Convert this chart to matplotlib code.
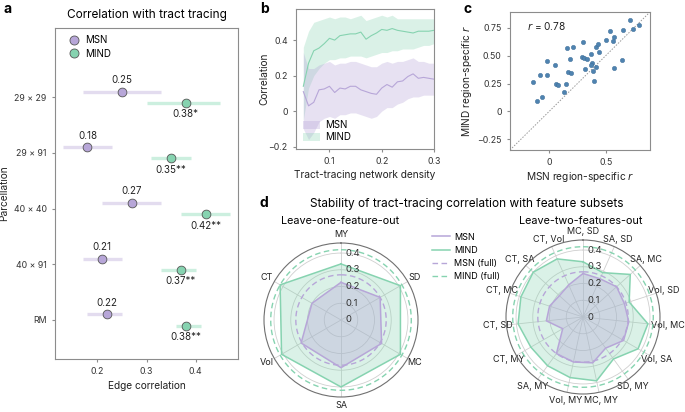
import numpy as np
import matplotlib.pyplot as plt
from matplotlib.patches import Patch
from matplotlib.lines import Line2D

plt.rcParams['font.family'] = ['Inter', 'DejaVu Sans']
plt.rcParams['mathtext.fontset'] = 'custom'
plt.rcParams['mathtext.it'] = 'DejaVu Sans:italic'
plt.rcParams['mathtext.rm'] = 'Inter'
plt.rcParams['axes.edgecolor'] = '#8c8c8c'
plt.rcParams['axes.linewidth'] = 0.8
plt.rcParams['xtick.color'] = '#8c8c8c'
plt.rcParams['ytick.color'] = '#8c8c8c'
plt.rcParams['xtick.labelcolor'] = '#333333'
plt.rcParams['ytick.labelcolor'] = '#333333'
plt.rcParams['xtick.labelsize'] = 6.3
plt.rcParams['ytick.labelsize'] = 6.3
plt.rcParams['xtick.major.size'] = 2.5
plt.rcParams['ytick.major.size'] = 2.5
plt.rcParams['axes.labelsize'] = 7.3
plt.rcParams['axes.labelcolor'] = '#222222'

MSN_C = '#b7a6d8'
MIND_C = '#86d3b0'
MSN_LIGHT = '#e3dcef'
MIND_LIGHT = '#ccefdf'
DOT_C = '#4f83b0'

W, H = 685, 412


def fx(px):
    return px / W


def fy(py):
    return 1 - py / H


# ---- panel a: correlation with tract tracing
parcellations = ['29 × 29', '29 × 91', '40 × 40', '40 × 91', 'RM']
msn_corr = [0.25, 0.18, 0.27, 0.21, 0.22]
msn_lo = [0.17, 0.13, 0.21, 0.17, 0.18]
msn_hi = [0.33, 0.23, 0.33, 0.25, 0.25]
mind_corr = [0.38, 0.35, 0.42, 0.37, 0.38]
mind_lo = [0.30, 0.31, 0.37, 0.33, 0.36]
mind_hi = [0.45, 0.39, 0.47, 0.40, 0.41]
mind_labels = ['0.38*', '0.35**', '0.42**', '0.37**', '0.38**']

# ---- panel b: correlation vs tract-tracing density
density = [0.05, 0.06, 0.07, 0.08, 0.09, 0.10, 0.11, 0.12, 0.13, 0.14, 0.15, 0.16, 0.17,
           0.18, 0.19, 0.20, 0.21, 0.22, 0.23, 0.24, 0.25, 0.26, 0.27, 0.28, 0.29, 0.30]
mind_mean = [0.14, 0.27, 0.34, 0.355, 0.38, 0.41, 0.40, 0.425, 0.43, 0.435, 0.435, 0.445, 0.405,
             0.425, 0.44, 0.46, 0.455, 0.465, 0.455, 0.45, 0.445, 0.44, 0.45, 0.45, 0.45, 0.455]
mind_upper = [0.36, 0.45, 0.50, 0.51, 0.52, 0.53, 0.52, 0.53, 0.53, 0.52, 0.53, 0.54, 0.51,
              0.52, 0.53, 0.54, 0.53, 0.54, 0.52, 0.52, 0.52, 0.52, 0.52, 0.52, 0.52, 0.52]
mind_lower = [-0.05, 0.13, 0.20, 0.24, 0.27, 0.29, 0.29, 0.30, 0.30, 0.31, 0.31, 0.31, 0.30,
              0.31, 0.32, 0.33, 0.33, 0.34, 0.34, 0.35, 0.35, 0.35, 0.36, 0.37, 0.37, 0.38]
msn_mean = [0.11, 0.03, 0.05, 0.12, 0.125, 0.14, 0.105, 0.13, 0.125, 0.14, 0.14, 0.12, 0.11,
            0.10, 0.095, 0.13, 0.15, 0.135, 0.165, 0.17, 0.195, 0.21, 0.185, 0.19, 0.185, 0.18]
msn_upper = [0.33, 0.24, 0.24, 0.26, 0.27, 0.28, 0.26, 0.27, 0.27, 0.28, 0.28, 0.27, 0.26,
             0.25, 0.25, 0.27, 0.28, 0.27, 0.28, 0.28, 0.29, 0.30, 0.28, 0.28, 0.27, 0.27]
msn_lower = [-0.10, -0.16, -0.12, -0.06, -0.04, -0.03, -0.04, -0.02, -0.02, -0.01, -0.01, -0.02, -0.03,
             -0.04, -0.03, 0.00, 0.02, 0.02, 0.04, 0.05, 0.07, 0.08, 0.08, 0.09, 0.09, 0.09]

# ---- panel c: region-specific correlations
msn_region = [0.30, 0.16, 0.21, 0.41, 0.43, 0.44, 0.37, 0.29, 0.31, 0.33, 0.18, -0.02, 0.05, 0.38,
              0.37, 0.41, 0.32, 0.39, 0.17, 0.19, -0.08, -0.02, 0.40, -0.14, 0.06, 0.08, 0.15,
              0.13, -0.06, -0.11, 0.71, 0.79, 0.65, 0.74, 0.54, 0.57, 0.56, 0.50, 0.64, 0.57]
mind_region = [0.62, 0.57, 0.58, 0.58, 0.60, 0.53, 0.51, 0.49, 0.48, 0.47, 0.47, 0.45, 0.42, 0.43,
               0.42, 0.40, 0.38, 0.36, 0.35, 0.34, 0.33, 0.33, 0.27, 0.26, 0.245, 0.24, 0.245,
               0.17, 0.13, 0.09, 0.82, 0.77, 0.73, 0.74, 0.72, 0.67, 0.63, 0.64, 0.46, 0.39]

# ---- panel d: feature subsets
one_out = ['MY', 'SD', 'MC', 'SA', 'Vol', 'CT']
msn_one = [0.225, 0.27, 0.28, 0.285, 0.275, 0.20]
mind_one = [0.335, 0.41, 0.41, 0.40, 0.41, 0.42]
two_out = ['MC, SD', 'SA, SD', 'SA, MC', 'Vol, SD', 'Vol, MC', 'Vol, SA', 'SD, MY', 'MC, MY',
           'Vol, MY', 'SA, MY', 'CT, MY', 'CT, SD', 'CT, MC', 'CT, SA', 'CT, Vol']
msn_two = [0.26, 0.25, 0.27, 0.26, 0.275, 0.28, 0.23, 0.28, 0.275, 0.27, 0.14, 0.22, 0.21, 0.19, 0.21]
mind_two = [0.33, 0.29, 0.38, 0.29, 0.39, 0.38, 0.31, 0.39, 0.37, 0.36, 0.36, 0.39, 0.39, 0.40, 0.38]
msn_full = 0.27
mind_full = 0.42

fig = plt.figure(figsize=(6.85, 4.12), dpi=100)

# ================= a
ax_a = fig.add_axes([fx(55), fy(359), fx(183), 331 / H])
y = np.arange(len(parcellations))
ax_a.hlines(y - 0.1, msn_lo, msn_hi, color=MSN_LIGHT, lw=2.4, zorder=1)
ax_a.hlines(y + 0.1, mind_lo, mind_hi, color=MIND_LIGHT, lw=2.4, zorder=1)
ax_a.plot(msn_corr, y - 0.1, 'o', ms=6.3, mfc=MSN_C, mec='#555555', mew=0.6, zorder=3)
ax_a.plot(mind_corr, y + 0.1, 'o', ms=6.3, mfc=MIND_C, mec='#555555', mew=0.6, zorder=3)
for i in range(len(parcellations)):
    ax_a.annotate(f'{msn_corr[i]:.2f}', (msn_corr[i], y[i] - 0.1), xytext=(0, 8.3),
                  textcoords='offset points', ha='center', va='center', fontsize=7, color='#222222')
    ax_a.annotate(mind_labels[i], (mind_corr[i], y[i] + 0.1), xytext=(0, -8.3),
                  textcoords='offset points', ha='center', va='center', fontsize=7, color='#222222')
ax_a.set_yticks(y)
ax_a.set_yticklabels(parcellations)
ax_a.set_ylim(4.7, -1.24)
ax_a.set_xlim(0.114, 0.486)
ax_a.set_xticks([0.2, 0.3, 0.4])
ax_a.set_xticklabels(['0.2', '0.3', '0.4'])
ax_a.set_xlabel('Edge correlation')
ax_a.set_ylabel('Parcellation')
ax_a.xaxis.set_label_coords(0.5, -0.066)
ax_a.yaxis.set_label_coords(-0.25, 0.5)
leg_a = ax_a.legend(handles=[
    Line2D([], [], marker='o', ls='', ms=6.5, mfc=MSN_C, mec='#555555', mew=0.6, label='MSN'),
    Line2D([], [], marker='o', ls='', ms=6.5, mfc=MIND_C, mec='#555555', mew=0.6, label='MIND')],
    loc='upper left', bbox_to_anchor=(0.02, 0.995), frameon=False, fontsize=7,
    handletextpad=0.1, labelspacing=0.35, borderaxespad=0.2)
fig.text(fx(147), fy(15), 'Correlation with tract tracing', ha='center', va='center', fontsize=8.5)
fig.text(fx(3), fy(9), 'a', ha='left', va='center', fontsize=10, fontweight='bold')

# ================= b
ax_b = fig.add_axes([fx(296), fy(149), fx(138), 140 / H])
ax_b.fill_between(density, mind_lower, mind_upper, color=MIND_C, alpha=0.3, lw=0)
ax_b.fill_between(density, msn_lower, msn_upper, color=MSN_C, alpha=0.33, lw=0)
ax_b.plot(density, mind_mean, color=MIND_C, lw=0.8)
ax_b.plot(density, msn_mean, color=MSN_C, lw=0.8)
ax_b.set_xlim(0.036, 0.30)
ax_b.set_ylim(-0.213, 0.575)
ax_b.set_xticks([0.1, 0.2, 0.3])
ax_b.set_xticklabels(['0.1', '0.2', '0.3'])
ax_b.set_yticks([-0.2, 0, 0.2, 0.4])
ax_b.set_yticklabels(['−0.2', '0', '0.2', '0.4'])
ax_b.set_xlabel('Tract-tracing network density')
ax_b.set_ylabel('Correlation')
ax_b.xaxis.set_label_coords(0.5, -0.15)
ax_b.yaxis.set_label_coords(-0.19, 0.5)
ax_b.legend(handles=[Patch(color=MSN_C, alpha=0.33, lw=0, label='MSN'),
                     Patch(color=MIND_C, alpha=0.3, lw=0, label='MIND')],
            loc='lower left', frameon=False, fontsize=7, handlelength=1.8, handleheight=1.0,
            handletextpad=0.5, labelspacing=0.2, borderaxespad=0.3)
fig.text(fx(260), fy(9), 'b', ha='left', va='center', fontsize=10, fontweight='bold')

# ================= c
ax_c = fig.add_axes([fx(510), fy(150), fx(140), 138 / H])
lims = (-0.345, 0.89)
ax_c.plot(lims, lims, ls=(0, (1.5, 1.5)), color='#999999', lw=0.7, zorder=1)
ax_c.scatter(msn_region, mind_region, s=10, color=DOT_C, edgecolor='#3a6a94', linewidth=0.3, zorder=3)
ax_c.set_xlim(lims)
ax_c.set_ylim(lims)
ax_c.set_xticks([0, 0.5])
ax_c.set_xticklabels(['0', '0.5'])
ax_c.set_yticks([-0.25, 0, 0.25, 0.5, 0.75])
ax_c.set_yticklabels(['−0.25', '0', '0.25', '0.50', '0.75'])
ax_c.set_xlabel('MSN region-specific $r$')
ax_c.set_ylabel('MIND region-specific $r$')
ax_c.xaxis.set_label_coords(0.5, -0.145)
ax_c.yaxis.set_label_coords(-0.26, 0.5)
ax_c.text(0.12, 0.9, '$r$ = 0.78', transform=ax_c.transAxes, fontsize=7.3, ha='left', va='center',
          color='#222222')
fig.text(fx(463), fy(9), 'c', ha='left', va='center', fontsize=10, fontweight='bold')

# ================= d
fig.text(fx(260), fy(203), 'd', ha='left', va='center', fontsize=10, fontweight='bold')
fig.text(fx(467), fy(204), 'Stability of tract-tracing correlation with feature subsets',
         ha='center', va='center', fontsize=8.5)
fig.text(fx(340), fy(221), 'Leave-one-feature-out', ha='center', va='center', fontsize=7.8)
fig.text(fx(581), fy(221), 'Leave-two-features-out', ha='center', va='center', fontsize=7.8)


def radar(ax, labels, msn_vals, mind_vals):
    n = len(labels)
    ang = np.linspace(0, 2 * np.pi, n, endpoint=False)
    closed = np.append(ang, ang[0])
    ax.set_theta_zero_location('N')
    ax.set_theta_direction(-1)
    mind = np.append(mind_vals, mind_vals[0])
    msn = np.append(msn_vals, msn_vals[0])
    ax.fill(closed, mind, color=MIND_C, alpha=0.3, lw=0, zorder=2)
    ax.plot(closed, mind, color=MIND_C, lw=1.1, zorder=4)
    ax.fill(closed, msn, color=MSN_C, alpha=0.35, lw=0, zorder=3)
    ax.plot(closed, msn, color=MSN_C, lw=1.1, zorder=5)
    circ = np.linspace(0, 2 * np.pi, 300)
    ax.plot(circ, np.full_like(circ, msn_full), ls=(0, (4, 2.5)), color=MSN_C, lw=1.0, zorder=5)
    ax.plot(circ, np.full_like(circ, mind_full), ls=(0, (4, 2.5)), color=MIND_C, lw=1.0, zorder=5)
    ax.set_ylim(0, 0.46)
    ax.set_yticks([0.1, 0.2, 0.3, 0.4])
    ax.set_yticklabels([])
    ax.set_xticks(ang)
    ax.set_xticklabels(labels, fontsize=6.5, color='#222222')
    ax.tick_params(axis='x', pad=-3.5)
    ax.grid(color='#cfcfcf', lw=0.6)
    ax.spines['polar'].set_color('#707070')
    ax.spines['polar'].set_linewidth(0.8)
    for r in [0, 0.1, 0.2, 0.3, 0.4]:
        ax.annotate(f'{r:g}', (0, r), xytext=(3, 0), textcoords='offset points', ha='left',
                    va='center', fontsize=6.8, color='#333333', zorder=6)


ax_d1 = fig.add_axes([fx(264), fy(397), fx(154), 154 / H], projection='polar')
radar(ax_d1, one_out, msn_one, mind_one)
ax_d2 = fig.add_axes([fx(506), fy(394), fx(154), 154 / H], projection='polar')
radar(ax_d2, two_out, msn_two, mind_two)

fig.legend(handles=[Line2D([], [], color=MSN_C, lw=1.1, label='MSN'),
                    Line2D([], [], color=MIND_C, lw=1.1, label='MIND'),
                    Line2D([], [], color=MSN_C, lw=1.0, ls=(0, (4, 2.5)), label='MSN (full)'),
                    Line2D([], [], color=MIND_C, lw=1.0, ls=(0, (4, 2.5)), label='MIND (full)')],
           loc='upper left', bbox_to_anchor=(fx(428), fy(229)), frameon=False, fontsize=6.5,
           handlelength=2.0, handletextpad=0.5, labelspacing=0.45, borderaxespad=0)

fig.savefig('out.png', dpi=100)
